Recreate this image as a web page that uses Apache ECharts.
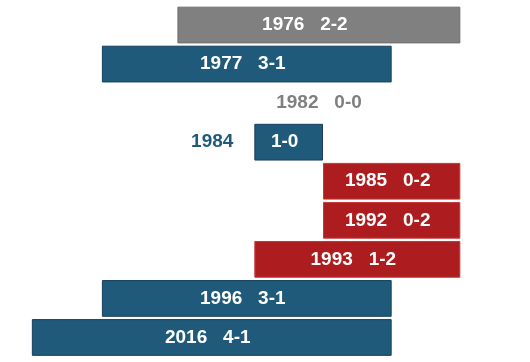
<!DOCTYPE html>
<html>
<head>
<meta charset="utf-8">
<script src="https://cdn.jsdelivr.net/npm/echarts@6/dist/echarts.min.js"></script>
<style>
html,body{margin:0;padding:0;background:#fff;}
#chart{width:530px;height:362px;}
</style>
</head>
<body>
<div id="chart"></div>
<script>
// Data
var years    = ['1976', '1977', '1982', '1984', '1985', '1992', '1993', '1996', '2016'];
var scores   = ['2-2', '3-1', '0-0', '1-0', '0-2', '0-2', '1-2', '3-1', '4-1'];
var barStart = [-2.12, -3.22, 0, -1.0, 0, 0, -1.0, -3.22, -4.24];
var barEnd   = [2, 1, 0, 0, 2, 2, 2, 1, 1];

var COLORS = {
  win:  {fill: '#1f5a7a', stroke: '#173f5c'},
  loss: {fill: '#ad1d1f', stroke: '#c23a3a'},
  tie:  {fill: '#808080', stroke: '#6e6e6e'}
};
var FONT = 'bold 19px "Liberation Sans", Arial, sans-serif';
var labelShift = {'1976': -14};

function outcome(s) {
  var p = s.split('-').map(Number);
  if (p[0] === 0 && p[1] === 0) return 'none';
  if (p[0] > p[1]) return 'win';
  if (p[0] < p[1]) return 'loss';
  return 'tie';
}

var data = years.map(function (y, i) { return [barStart[i], barEnd[i], i]; });

var chart = echarts.init(document.getElementById('chart'), null, {renderer: 'canvas'});
chart.setOption({
  animation: false,
  grid: {left: 14, right: 1, top: 5.5, bottom: 5},
  xAxis: {type: 'value', min: -4.5, max: 3, show: false},
  yAxis: {type: 'category', data: years, inverse: true, show: false},
  series: [{
    type: 'custom',
    encode: {x: [0, 1], y: 2},
    data: data,
    renderItem: function (params, api) {
      var i = api.value(2);
      var p0 = api.coord([api.value(0), i]);
      var p1 = api.coord([api.value(1), i]);
      var h = api.size([0, 1])[1] * 0.915;
      var yr = years[i], sc = scores[i], kind = outcome(sc);
      var shift = labelShift[yr] !== undefined ? labelShift[yr] : -4;
      var children = [];
      if (kind === 'none') {
        children.push({
          type: 'text',
          style: {x: p0[0] + shift, y: p0[1], text: yr + '   ' + sc, fill: '#808080', font: FONT,
                  align: 'center', verticalAlign: 'middle', textAlign: 'center', textVerticalAlign: 'middle'}
        });
        return {type: 'group', children: children};
      }
      var c = COLORS[kind];
      var x = p0[0] + 0.5, w = p1[0] - p0[0] - 1;
      children.push({
        type: 'rect',
        shape: {x: x, y: p0[1] - h / 2, width: w, height: h},
        style: {fill: c.fill, stroke: c.stroke, lineWidth: 1}
      });
      var cx = (p0[0] + p1[0]) / 2 + shift;
      var lossesZero = sc.split('-')[1] === '0';
      if (lossesZero) {
        children.push({
          type: 'text',
          style: {x: cx, y: p0[1], text: sc, fill: '#ffffff', font: FONT,
                  align: 'center', verticalAlign: 'middle', textAlign: 'center', textVerticalAlign: 'middle'}
        });
        children.push({
          type: 'text',
          style: {x: p0[0] - 21, y: p0[1], text: yr, fill: c.fill, font: FONT,
                  align: 'right', verticalAlign: 'middle', textAlign: 'right', textVerticalAlign: 'middle'}
        });
      } else {
        children.push({
          type: 'text',
          style: {x: cx, y: p0[1], text: yr + '   ' + sc, fill: '#ffffff', font: FONT,
                  align: 'center', verticalAlign: 'middle', textAlign: 'center', textVerticalAlign: 'middle'}
        });
      }
      return {type: 'group', children: children};
    }
  }]
});
</script>
</body>
</html>
